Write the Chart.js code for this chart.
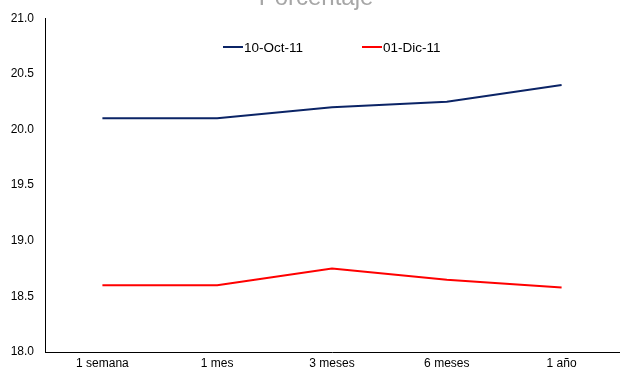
<!DOCTYPE html>
<html>
<head>
<meta charset="utf-8">
<script src="https://cdn.jsdelivr.net/npm/chart.js@4/dist/chart.umd.min.js"></script>
<style>
  html, body { margin: 0; padding: 0; background: #fff; }
  #wrap { width: 620px; height: 372px; }
</style>
</head>
<body>
<div id="wrap"><canvas id="chart" width="620" height="372"></canvas></div>
<script>
const labels = ["1 semana", "1 mes", "3 meses", "6 meses", "1 año"];
const serieOct = [20.1, 20.1, 20.2, 20.25, 20.4];
const serieDic = [18.6, 18.6, 18.75, 18.65, 18.58];
const seriesNames = ["10-Oct-11", "01-Dic-11"];
const yTicks = [18.0, 18.5, 19.0, 19.5, 20.0, 20.5, 21.0];

const FONT = "'Liberation Sans', Arial, sans-serif";

// title half cut off at the top + legend drawn inside the plot
const overlay = {
  id: "overlay",
  afterDraw(chart) {
    const ctx = chart.ctx;
    ctx.save();
    ctx.fillStyle = "#a6a6a6";
    ctx.font = "24px " + FONT;
    ctx.textAlign = "center";
    ctx.textBaseline = "alphabetic";
    ctx.fillText("Porcentaje", 316, 5);

    ctx.font = "13.5px " + FONT;
    ctx.textAlign = "left";
    ctx.textBaseline = "middle";
    const starts = [223, 362];
    chart.data.datasets.forEach((ds, i) => {
      const x = starts[i], y = 47;
      ctx.strokeStyle = ds.borderColor;
      ctx.lineWidth = 2;
      ctx.beginPath();
      ctx.moveTo(x, y);
      ctx.lineTo(x + 20, y);
      ctx.stroke();
      ctx.fillStyle = "#000";
      ctx.fillText(ds.label, x + 21, y + 1);
    });
    ctx.restore();
  }
};

new Chart(document.getElementById("chart"), {
  type: "line",
  data: {
    labels: labels,
    datasets: [
      {
        label: seriesNames[0],
        data: serieOct,
        borderColor: "#0b2466",
        borderWidth: 2,
        pointRadius: 0,
        tension: 0
      },
      {
        label: seriesNames[1],
        data: serieDic,
        borderColor: "#ff0000",
        borderWidth: 2,
        pointRadius: 0,
        tension: 0
      }
    ]
  },
  options: {
    responsive: false,
    animation: false,
    layout: { padding: { top: 14, right: 1, left: 0, bottom: 0 } },
    plugins: {
      legend: { display: false },
      title: { display: false },
      tooltip: { enabled: false }
    },
    scales: {
      x: {
        offset: true,
        grid: { display: false, drawTicks: false },
        border: { color: "#000", width: 1 },
        ticks: { color: "#000", font: { family: FONT, size: 12 }, padding: 4, maxRotation: 0 },
        afterFit: s => { s.height = 20; }
      },
      y: {
        min: 18,
        max: 21,
        afterBuildTicks: s => { s.ticks = yTicks.map(v => ({ value: v })); },
        grid: { display: false, drawTicks: false },
        border: { color: "#000", width: 1 },
        ticks: {
          color: "#000",
          font: { family: FONT, size: 12 },
          padding: 11,
          callback: v => v.toFixed(1)
        },
        afterFit: s => { s.width = 45; }
      }
    }
  },
  plugins: [overlay]
});
</script>
</body>
</html>
